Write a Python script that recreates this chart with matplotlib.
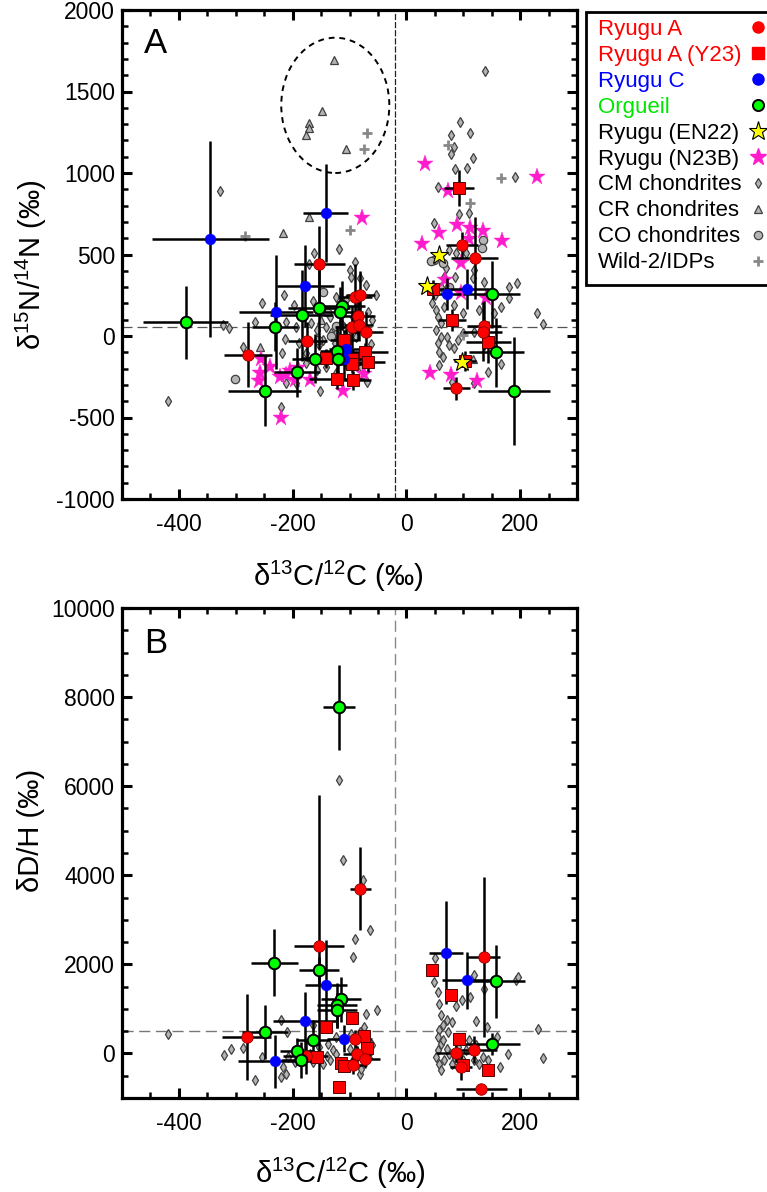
import matplotlib
matplotlib.use('Agg')
import matplotlib.pyplot as plt
from matplotlib.lines import Line2D
from matplotlib.patches import Ellipse, Rectangle
from matplotlib.ticker import MultipleLocator

plt.rcParams['font.family'] = ['Liberation Sans', 'DejaVu Sans']
plt.rcParams['mathtext.fontset'] = 'custom'
plt.rcParams['mathtext.rm'] = 'Liberation Sans'
plt.rcParams['mathtext.it'] = 'Liberation Sans:italic'
plt.rcParams['mathtext.bf'] = 'Liberation Sans:bold'
plt.rcParams['axes.unicode_minus'] = False

# ================= Panel A : d15N vs d13C =================
# Ryugu A (red circles)
ra_a_x = [-153, -279, -174, -91, -81, -85, -95, -84, -71, 98, 120, 137, 134, 88]
ra_a_y = [440, -115, -33, 241, 250, 125, 57, 67, 27, 558, 477, 63, 27, -321]
ra_a_xerr = [45, 42, 35, 30, 25, 30, 30, 25, 30, 28, 41, 30, 35, 23]
ra_a_yerr = [235, 200, 120, 200, 150, 150, 130, 100, 120, 80, 250, 150, 180, 70]
# Ryugu A (Y23) (red squares)
ry_a_x = [-141, -110, -95, -95, -72, -68, -122, -93, 93, 47, 80, 144, 103]
ry_a_y = [-137, -25, -140, -170, -100, -158, -266, -272, 906, 286, 98, -35, -153]
ry_a_xerr = [45, 25, 30, 25, 40, 30, 50, 30, 26, 20, 25, 40, 20]
ry_a_yerr = [60, 60, 60, 60, 60, 60, 60, 60, 110, 60, 70, 130, 60]
# Ryugu C (blue)
rc_a_x = [-345, -142, -178, -230, -106, -110, 71, 106]
rc_a_y = [595, 753, 307, 149, -80, -141, 258, 288]
rc_a_xerr = [103, 40, 50, 65, 30, 30, 25, 40]
rc_a_yerr = [600, 300, 250, 350, 120, 120, 100, 120]
# Orgueil (green)
og_a_x = [-388, -231, -184, -154, -113, -117, -249, -192, -161, -122, -121, 150, 158, 189]
og_a_y = [84, 57, 127, 172, 186, 150, -335, -223, -139, -90, -141, 256, -100, -337]
og_a_xerr = [75, 40, 55, 55, 40, 40, 64, 40, 40, 30, 30, 50, 48, 63]
og_a_yerr = [225, 150, 280, 250, 150, 150, 220, 150, 150, 150, 150, 205, 210, 330]
# Ryugu (EN22) yellow stars
en_a_x = [58, 36, 98]
en_a_y = [497, 307, -158]
# Ryugu (N23B) magenta stars
nb_a_x = [-78, -255, -240, -258, -259, -223, -211, -196, -191, -169, -112, -74, -220, -205,
          32, 230, 74, 89, 112, 135, 58, 169, 27, 110, 96, 68, 96, 42, 78, 125, 36, 140]
nb_a_y = [722, -143, -188, -229, -274, -252, -240, -270, -198, -270, -335, -233, -505, -215,
          1053, 973, 890, 681, 660, 646, 634, 583, 564, 595, 446, 344, 262, -229, -239, -274, 300, 235]
# CM chondrites (diamonds)
cm_a_x = [-328, -118, -162, -172, -91, -215, -254, -198, -267, -312, -322, -214, -219, -288,
          -419, -221, -151, -211, -194, -167, -158, -141, -147, -132, -126, -135, -188, -100,
          -82, -97, -71, -53, -106, -123, -164, -153, -176, -100, -88, -109, -80, -158, -176,
          -211, -194, -141, -123, -94, -85, -115, -123, -67, -60, -62, -70,
          139, 94, 78, 112, 84, 79, 118, 85, 106, 191, 55, 93, 110, 49, 75, 86, 118, 137, 181,
          195, 181, 167, 154, 128, 52, 55, 61, 52, 61, 55, 58, 72, 84, 90, 75, 58, 67, 84, 99,
          119, 230, 240, 143, 166, 119, 87, 105, 67, 119, 50, 45, 60, 70, 100, 65, 80]
cm_a_y = [891, 536, 507, 442, 456, 254, 200, 190, 84, 50, 70, -20, -102, -65,
          -401, -434, -339, 88, 57, 78, 37, 57, -25, 16, -45, 118, -45, 405,
          354, 364, 313, 252, 221, 241, 215, -55, -102, -25, -4, 57, -188, -209, -168,
          -290, -290, -188, -229, 118, 180, 78, 16, 149, 100, -50, -280,
          1626, 1311, 1233, 1247, 1161, 1117, 1094, 1023, 1033, 977, 916, 746, 757, 695, 528,
          364, 354, 333, 302, 327, 231, 180, 139, 160, 160, 118, 78, 37, -4, -45, -96, -4, -76,
          -25, -55, -178, 180, 190, 139, 27, 143, 74, -219, -172, -290, 507, 507, 364, 405, 250,
          200, 300, 420, 20, -130, -280]
# CR chondrites (triangles)
cr_a_x = [-127, -148, -171, -171, -176, -106, -217, -171, -257, 118, -150]
cr_a_y = [1693, 1380, 1305, 1276, 1233, 1145, 634, 732, -65, -143, 100]
# CO chondrites (gray circles)
co_a_x = [-147, -302, -123, -155, -132, 49, 44, 65, 134, 133, -140, -100, 75]
co_a_y = [272, -266, 60, -25, 0, 466, 460, 450, 589, 540, 150, 30, 300]
# Wild-2 / IDPs (crosses)
wd_a_x = [-283, -100, -70, -75, 74, 166, 112, 99]
wd_a_y = [613, 650, 1247, 1145, 1172, 967, 814, 6]

# ================= Panel B : dD vs d13C =================
ra_b_x = [-81, -154, -281, -177, -91, -86, -94, -72, 136, 87, 119, 96, 132]
ra_b_y = [3700, 2404, 366, -67, 330, -22, -270, -119, 2164, 7, 83, -307, -794]
ra_b_xerr = [19, 44, 43, 40, 30, 25, 25, 25, 29, 35, 40, 20, 45]
ra_b_yerr = [930, 3400, 970, 400, 200, 200, 200, 200, 1800, 200, 300, 300, 100]
ry_b_x = [-142, -95, -157, -119, -74, -69, -115, -109, 45, 78, 92, 100, 143]
ry_b_y = [591, 793, -83, -757, 389, 128, -218, -292, 1865, 1319, 330, -270, -382]
rc_b_x = [70, 106, -142, -179, -231, -110]
rc_b_y = [2263, 1640, 1544, 726, -180, 330]
rc_b_xerr = [30, 44, 37, 55, 65, 30]
rc_b_yerr = [1160, 640, 1000, 650, 600, 300]
og_b_x = [-118, -232, -154, -115, -122, -122, -249, -164, -192, -185, 157, 150]
og_b_y = [7768, 2038, 1865, 1213, 1078, 966, 479, 308, 52, -142, 1625, 218]
og_b_xerr = [28, 41, 35, 35, 35, 35, 40, 30, 30, 35, 52, 50]
og_b_yerr = [950, 750, 300, 500, 500, 400, 600, 400, 300, 400, 820, 250]
cm_b_x = [-118, -112, -77, -91, -64, -94, -71, -52, -419, -321, -309, -288, -267, -254,
          -220, -210, -217, -212, -220, -208, -164, -138, -129, -123, -135, -147, -118, -106,
          -94, -82, -80, -97, -82, -74, -170, -164, -153, -123, -88, -100, -140, -60, -65, -195,
          51, 49, 55, 57, 61, 72, 81, 64, 58, 74, 55, 61, 55, 52, 58, 61, 67, 75, 81, 72, 97,
          112, 88, 119, 136, 192, 197, 122, 141, 232, 240, 179, 164, 160, 119, 134, 143, 128,
          110, 105, 122, 90, 85, 65, 100]
cm_b_y = [6150, 4352, 3887, 2577, 2780, 2164, 876, 966, 442, -45, 105, 119, -607, -83,
          741, 479, -307, -457, -532, -83, 629, 217, 67, -7, -157, -232, -195, -270,
          -157, -457, -344, 442, 479, 591, -7, -195, 142, 366, 67, 100, -50, 200, -100, -200,
          2150, 1603, 1378, 1101, 854, 742, 704, 629, 517, 479, 366, 218, 67, -83, -232, -382,
          -157, -7, -232, 105, 1206, 1265, 1056, 1753, 1453, 1640, 1714, 726, 591, 555, -106,
          -22, -307, 366, -157, -83, -157, -232, 292, 67, 180, 150, -100, 300, -150]

# reference lines and ellipse
ref_x = -20
ref_y_a = 55
ref_y_b = 500
ell_center = (-125, 1415)
ell_size = (190, 830)

# legend content
leg_labels = ['Ryugu A', 'Ryugu A (Y23)', 'Ryugu C', 'Orgueil', 'Ryugu (EN22)', 'Ryugu (N23B)',
              'CM chondrites', 'CR chondrites', 'CO chondrites', 'Wild-2/IDPs']

W, H = 767, 1192
fig = plt.figure(figsize=(W / 100, H / 100), dpi=100)
axA = fig.add_axes([122 / W, 1 - 499 / H, 455 / W, 489 / H])
axB = fig.add_axes([122 / W, 1 - 1098 / H, 455 / W, 490 / H])

RED, BLUE, GREEN, MAG, YEL = '#ff0000', '#0000ff', '#00ff00', '#ff1ccc', '#ffff00'
GFILL, GEDGE = '#b4b4b4', '#404040'


def style(ax, ymaj, ymin):
    ax.set_xlim(-500, 300)
    ax.xaxis.set_major_locator(MultipleLocator(200))
    ax.xaxis.set_minor_locator(MultipleLocator(50))
    ax.yaxis.set_major_locator(MultipleLocator(ymaj))
    ax.yaxis.set_minor_locator(MultipleLocator(ymin))
    for s in ax.spines.values():
        s.set_linewidth(2.3)
    ax.tick_params(which='both', direction='in', top=True, right=True, labelsize=16.5)
    ax.tick_params(which='major', length=7, width=2.2)
    ax.tick_params(which='minor', length=4, width=1.8)
    ax.tick_params(axis='x', pad=10)
    ax.tick_params(axis='y', pad=5)


def gray(ax, x, y, marker, ms):
    ax.plot(x, y, ls='none', marker=marker, ms=ms, mfc=GFILL, mec=GEDGE, mew=0.9, zorder=2)


def errs(ax, x, y, xe, ye):
    ax.errorbar(x, y, xerr=xe, yerr=ye, fmt='none', ecolor='black', elinewidth=1.8,
                capsize=0, zorder=4)

# ---------- Panel A ----------
ax = axA
style(ax, 500, 100)
ax.set_ylim(-1000, 2000)
ax.axvline(ref_x, color='#222222', lw=0.9, dashes=(5, 1.5), zorder=1)
ax.axhline(ref_y_a, color='#555555', lw=0.9, dashes=(8, 4), zorder=1)
ax.add_patch(Ellipse(ell_center, ell_size[0], ell_size[1], fill=False, ec='black',
                     lw=1.4, ls=(0, (3, 2.5)), zorder=2))
gray(ax, cm_a_x, cm_a_y, 'd', 4.8)
gray(ax, cr_a_x, cr_a_y, '^', 5.5)
gray(ax, co_a_x, co_a_y, 'o', 6)
ax.plot(wd_a_x, wd_a_y, ls='none', marker='+', ms=7.5, mew=2, color='#888888', zorder=2)
ax.plot(nb_a_x, nb_a_y, ls='none', marker='*', ms=12.5, mfc=MAG, mec=MAG, mew=0.3, zorder=3)
errs(ax, ra_a_x, ra_a_y, ra_a_xerr, ra_a_yerr)
errs(ax, ry_a_x, ry_a_y, ry_a_xerr, ry_a_yerr)
errs(ax, rc_a_x, rc_a_y, rc_a_xerr, rc_a_yerr)
errs(ax, og_a_x, og_a_y, og_a_xerr, og_a_yerr)
ax.plot(ry_a_x, ry_a_y, ls='none', marker='s', ms=8, mfc=RED, mec='#550000', mew=0.7, zorder=5)
ax.plot(ra_a_x, ra_a_y, ls='none', marker='o', ms=8.3, mfc=RED, mec='#880000', mew=0.6, zorder=5)
ax.plot(rc_a_x, rc_a_y, ls='none', marker='o', ms=7.8, mfc=BLUE, mec=BLUE, mew=0.3, zorder=5)
ax.plot(og_a_x, og_a_y, ls='none', marker='o', ms=8.3, mfc=GREEN, mec='black', mew=1.4, zorder=5)
ax.plot(en_a_x, en_a_y, ls='none', marker='*', ms=14, mfc=YEL, mec='black', mew=0.8, zorder=6)
ax.text(0.048, 0.912, 'A', transform=ax.transAxes, fontsize=25, va='baseline', ha='left')
ax.set_xlabel(r'δ$^{13}$C/$^{12}$C (‰)', fontsize=21)
ax.set_ylabel(r'δ$^{15}$N/$^{14}$N (‰)', fontsize=21)
ax.xaxis.label.set_va('center')
ax.yaxis.label.set_va('center')
ax.xaxis.set_label_coords(0.475, -0.158)
ax.yaxis.set_label_coords(-0.20, 0.48)

# ---------- Panel B ----------
ax = axB
style(ax, 2000, 500)
ax.set_ylim(-1000, 10000)
ax.axvline(ref_x, color='#888888', lw=1.0, dashes=(8, 4), zorder=1)
ax.axhline(ref_y_b, color='#777777', lw=1.0, dashes=(8, 4), zorder=1)
gray(ax, cm_b_x, cm_b_y, 'd', 4.8)
errs(ax, ra_b_x, ra_b_y, ra_b_xerr, ra_b_yerr)
errs(ax, rc_b_x, rc_b_y, rc_b_xerr, rc_b_yerr)
errs(ax, og_b_x, og_b_y, og_b_xerr, og_b_yerr)
ax.plot(ry_b_x, ry_b_y, ls='none', marker='s', ms=8, mfc=RED, mec='#550000', mew=0.7, zorder=5)
ax.plot(ra_b_x, ra_b_y, ls='none', marker='o', ms=8.3, mfc=RED, mec='#880000', mew=0.6, zorder=5)
ax.plot(rc_b_x, rc_b_y, ls='none', marker='o', ms=7.8, mfc=BLUE, mec=BLUE, mew=0.3, zorder=5)
ax.plot(og_b_x, og_b_y, ls='none', marker='o', ms=8.3, mfc=GREEN, mec='black', mew=1.4, zorder=5)
ax.text(0.048, 0.908, 'B', transform=ax.transAxes, fontsize=25, va='baseline', ha='left')
ax.set_xlabel(r'δ$^{13}$C/$^{12}$C (‰)', fontsize=21)
ax.set_ylabel('δD/H (‰)', fontsize=21)
ax.xaxis.label.set_va('center')
ax.yaxis.label.set_va('center')
ax.xaxis.set_label_coords(0.479, -0.153)
ax.yaxis.set_label_coords(-0.20, 0.547)

# ---------- Legend (drawn in figure coordinates, text left-aligned, markers right) ----------
leg_colors = [RED, RED, BLUE, '#00e600', 'black', 'black', 'black', 'black', 'black', 'black']
leg_markers = [
    dict(marker='o', ms=8, mfc=RED, mec=RED),
    dict(marker='s', ms=8, mfc=RED, mec=RED),
    dict(marker='o', ms=8, mfc=BLUE, mec=BLUE),
    dict(marker='o', ms=8, mfc=GREEN, mec='black', mew=1.4),
    dict(marker='*', ms=14, mfc=YEL, mec='black', mew=0.8),
    dict(marker='*', ms=12.5, mfc=MAG, mec=MAG),
    dict(marker='d', ms=5, mfc=GFILL, mec=GEDGE, mew=0.9),
    dict(marker='^', ms=5.5, mfc=GFILL, mec=GEDGE, mew=0.9),
    dict(marker='o', ms=6, mfc=GFILL, mec=GEDGE, mew=0.9),
    dict(marker='+', ms=7.5, mew=2, color='#888888'),
]
fig.add_artist(Rectangle((586 / W, 1 - 285 / H), (800 - 586) / W, (285 - 12) / H,
                         transform=fig.transFigure, fc='white', ec='black', lw=2,
                         clip_on=False, zorder=10))
for i, (lab, col, mk) in enumerate(zip(leg_labels, leg_colors, leg_markers)):
    base = 34.5 + 26 * i
    fig.text(598 / W, 1 - base / H, lab, color=col, fontsize=16, ha='left', va='baseline',
             zorder=11)
    fig.add_artist(Line2D([758 / W], [1 - (base - 7.5) / H], ls='none',
                          transform=fig.transFigure, zorder=11, **mk))

fig.savefig('out.png', dpi=100)
